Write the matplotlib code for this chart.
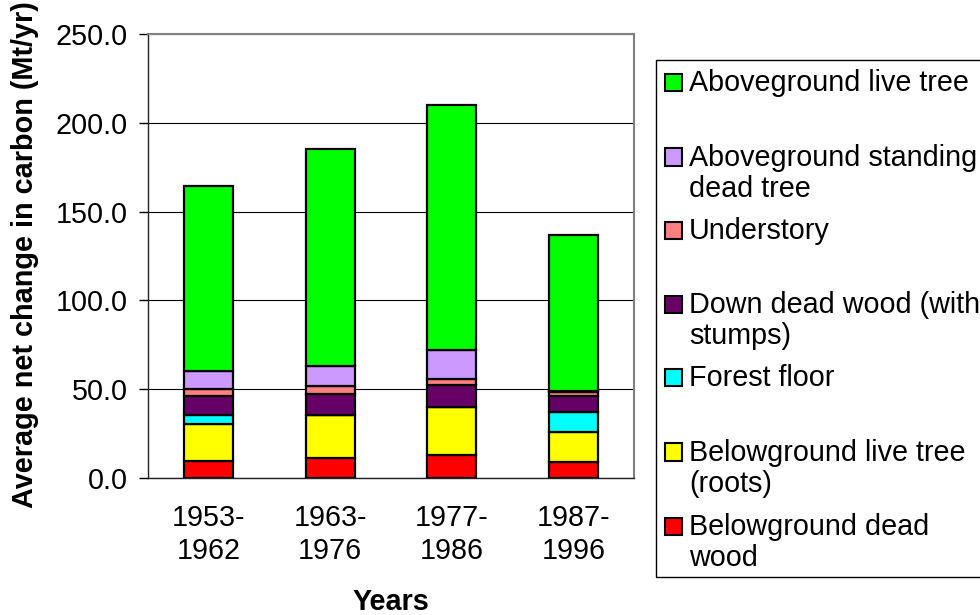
import matplotlib
matplotlib.use("Agg")
import matplotlib.pyplot as plt
from matplotlib.patches import Rectangle
import numpy as np

plt.rcParams['font.family'] = ['Liberation Sans', 'DejaVu Sans']

categories = ["1953-\n1962", "1963-\n1976", "1977-\n1986", "1987-\n1996"]

belowground_dead = [9.7, 11.1, 13.1, 8.8]
belowground_live = [20.5, 24.3, 26.8, 17.3]
forest_floor = [5.4, 0.3, 0.2, 11.3]
down_dead = [10.7, 11.7, 12.0, 8.8]
understory = [3.6, 4.5, 3.8, 2.3]
standing_dead = [10.5, 10.9, 15.9, 0.3]
aboveground_live = [103.9, 122.5, 138.3, 88.1]

series = [belowground_dead, belowground_live, forest_floor, down_dead,
          understory, standing_dead, aboveground_live]
colors = ['#FF0000', '#FFFF00', '#00FFFF', '#660066', '#FF8080', '#CC99FF', '#00FF00']
legend_labels = [
    ["Aboveground live tree"],
    ["Aboveground standing", "dead tree"],
    ["Understory"],
    ["Down dead wood (with", "stumps)"],
    ["Forest floor"],
    ["Belowground live tree", "(roots)"],
    ["Belowground dead", "wood"],
]
legend_colors = colors[::-1]

yticks = [0, 50, 100, 150, 200, 250]

FS = 20.7
W, H = 980, 615
fig = plt.figure(figsize=(W / 100, H / 100), dpi=100)
ax = fig.add_axes([148 / W, 1 - 478 / H, (634 - 148) / W, (478 - 34) / H])

x = np.arange(len(categories))
bottom = np.zeros(len(categories))
for vals, c in zip(series, colors):
    ax.bar(x, vals, width=0.4, bottom=bottom, color=c, edgecolor='black',
           linewidth=1.6, zorder=3)
    bottom += np.array(vals)

ax.set_xlim(-0.5, 3.5)
ax.set_ylim(0, 250)
ax.set_yticks(yticks)
ax.set_yticklabels([f"{v:.1f}" for v in yticks], fontsize=FS)
ax.set_xticks(x)
ax.set_xticklabels(categories, fontsize=FS)
ax.tick_params(axis='x', length=0, pad=19)
ax.tick_params(axis='y', length=6.5, width=1, direction='out', pad=8)
ax.yaxis.grid(True, color='black', linewidth=0.8, zorder=0)
ax.set_axisbelow(True)
for s in ['top', 'right']:
    ax.spines[s].set_color('#808080')
    ax.spines[s].set_linewidth(1.5)
for s in ['left', 'bottom']:
    ax.spines[s].set_color('#222222')
    ax.spines[s].set_linewidth(1.0)

fig.text(25 / W, 1 - 255 / H, "Average net change in carbon (Mt/yr)", rotation=90,
         ha='center', va='center', fontsize=20.8, fontweight='bold')
fig.text(391 / W, 1 - 609.5 / H, "Years", ha='center', va='baseline',
         fontsize=FS, fontweight='bold')

# legend box
def P(px, py):
    return (px / W, 1 - py / H)

box = Rectangle(P(655.7, 577.3), (990 - 655.7) / W, (577.3 - 60) / H,
                transform=fig.transFigure, facecolor='white', edgecolor='black',
                linewidth=1.0, clip_on=False)
fig.add_artist(box)

baselines = [91, 165.7, 239, 313.3, 386, 460.7, 535]
for lines, c, b in zip(legend_labels, legend_colors, baselines):
    sq = Rectangle(P(664.5, b), 17.5 / W, 17.5 / H, transform=fig.transFigure,
                   facecolor=c, edgecolor='black', linewidth=1.5)
    fig.add_artist(sq)
    for i, t in enumerate(lines):
        fig.text(689 / W, 1 - (b + 31 * i) / H, t, ha='left', va='baseline',
                 fontsize=FS)

fig.savefig("out.png", dpi=100)
